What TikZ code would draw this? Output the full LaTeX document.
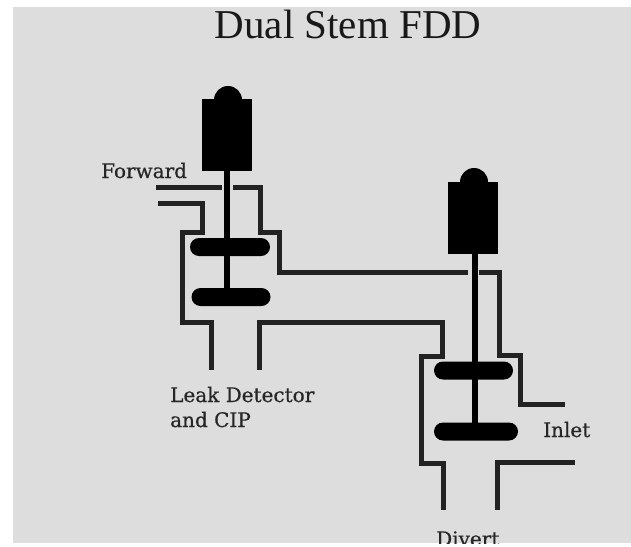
\documentclass[tikz,border=0pt]{standalone}
\usepackage{fontspec}
\setmainfont{Liberation Serif}
\newfontfamily\labelfont[FakeBold=0.6]{DejaVu Serif}
\usetikzlibrary{shapes.misc}
\definecolor{panelgray}{HTML}{DDDDDD}
\definecolor{pipegray}{HTML}{222222}
\tikzset{
    pipe/.style = {draw=pipegray,line width=5pt},
    stem/.style = {draw=black,line width=6pt},
    actuator/.style = {rectangle, fill=black, inner sep=0pt, minimum width=50pt, minimum height=72pt},
    dome/.style = {circle, fill=black, inner sep=0pt, minimum size=28pt},
    disc/.style = {rounded rectangle, fill=black, inner sep=0pt, minimum height=18pt},
    mylabel/.style = {anchor=base west, inner sep=0pt, text=black!85, font=\labelfont\fontsize{20}{24}\selectfont},
    mytitle/.style = {anchor=base, inner sep=0pt, text=black!90, font=\fontsize{41}{48}\selectfont}
}
\begin{document}
\begin{tikzpicture}[x=1pt,y=-1pt]
\useasboundingbox (0,0) rectangle (631,546);
\fill[white] (0,0) rectangle (631,546);
\begin{scope}
\clip (13,7) rectangle (631,543);
\fill[panelgray] (13,7) rectangle (631,543);

\node[mytitle] at (348,38) (title) {Dual Stem FDD};
\node[mylabel] at (101,178) (forward) {Forward};
\node[mylabel] at (170,402) (leak) {Leak Detector};
\node[mylabel] at (170,427) (cip) {and CIP};
\node[mylabel] at (543,437) (inlet) {Inlet};
\node[mylabel] at (436,546) (divert) {Divert};

% left valve
\node[dome] at (228,100) (domeL) {};
\node[actuator] at (227,135) (actL) {};
\node[disc, minimum width=80pt] at (230,247) (discLa) {};
\node[disc, minimum width=79pt] at (231,297) (discLb) {};
\draw[stem] (actL.south) -- (227,297);

% right valve
\node[dome] at (474,182) (domeR) {};
\node[actuator] at (473,217.5) (actR) {};
\node[disc, minimum width=79pt] at (473.5,370.5) (discRa) {};
\node[disc, minimum width=84pt] at (476,431.5) (discRb) {};
\draw[stem] (475,253) -- (475,431);

% pipes
\draw[pipe] (156,187) -- (222,187);
\draw[pipe] (233,187) -- (260,187) -- (260,232) -- (279,232) -- (279,272) -- (468,272);
\draw[pipe] (479,272) -- (499,272) -- (499,355) -- (520,355) -- (520,404) -- (565,404);
\draw[pipe] (158,203) -- (202,203) -- (202,232) -- (182,232) -- (182,322) -- (211,322) -- (211,370);
\draw[pipe] (259,370) -- (259,322) -- (442,322) -- (442,356) -- (421,356) -- (421,463) -- (443,463) -- (443,510);
\draw[pipe] (497,510) -- (497,462) -- (575,462);
\end{scope}
\end{tikzpicture}
\end{document}
